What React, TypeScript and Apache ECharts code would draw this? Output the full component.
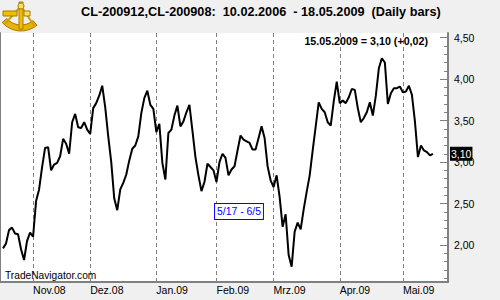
import React, { useEffect, useRef } from 'react';
import * as echarts from 'echarts';

// ---- data ----
const HOLIDAYS = ['2008-11-27', '2008-12-25', '2009-01-01', '2009-01-19', '2009-02-16', '2009-04-10'];
const FIRST_DAY = '2008-10-17';
const LAST_DAY = '2009-05-22';

const octValues = [1.96, 2.02, 2.18, 2.21, 2.14, 2.13, 1.95, 1.82, 2.05, 2.15];
const novValues = [2.10, 2.53, 2.67, 2.94, 3.17, 3.18, 2.90, 2.97, 2.99, 3.07, 3.28, 3.22, 3.10, 3.48, 3.58, 3.42, 3.41, 3.48, 3.39];
const decValues = [3.34, 3.65, 3.71, 3.80, 3.92, 3.66, 3.31, 3.00, 2.56, 2.42, 2.67, 2.75, 2.85, 3.02, 3.16, 3.20, 3.31, 3.59, 3.77, 3.86, 3.69, 3.64];
const janValues = [3.36, 3.46, 2.99, 2.79, 3.35, 3.39, 3.56, 3.68, 3.43, 3.49, 3.60, 3.69, 3.38, 3.06, 2.84, 2.65, 2.76, 2.98, 2.94, 2.90];
const febValues = [2.76, 3.00, 3.10, 3.05, 2.84, 2.91, 2.95, 3.14, 3.32, 3.27, 3.25, 3.23, 3.15, 3.15, 3.29, 3.43, 3.29, 2.95, 2.78];
const marValues = [2.70, 2.84, 2.58, 2.22, 2.37, 1.88, 1.74, 2.16, 2.27, 2.19, 2.43, 2.64, 2.84, 3.14, 3.43, 3.72, 3.64, 3.60, 3.48, 3.44, 3.73, 3.97];
const aprValues = [3.71, 3.74, 3.71, 3.78, 3.88, 3.87, 3.65, 3.48, 3.53, 3.60, 3.72, 3.56, 3.80, 4.13, 4.25, 4.20, 3.70, 3.83, 3.89, 3.89, 3.91];
const mayValues = [3.84, 3.85, 3.92, 3.81, 3.49, 3.06, 3.20, 3.14, 3.12, 3.08, 3.10];

const MONTHS_DE = ['Jan', 'Feb', 'Mrz', 'Apr', 'Mai', 'Jun', 'Jul', 'Aug', 'Sep', 'Okt', 'Nov', 'Dez'];
const Y_MIN = 1.555;
const Y_MAX = 4.555;
const yMajorTicks = [2.0, 2.5, 3.0, 3.5, 4.0, 4.5];
const yMinorTicks = [1.6, 1.7, 1.8, 1.9, 2.1, 2.2, 2.3, 2.4, 2.6, 2.7, 2.8, 2.9, 3.1, 3.2, 3.3, 3.4, 3.6, 3.7, 3.8, 3.9, 4.1, 4.2, 4.3, 4.4];
const lastValue = 3.10;

const titleText = 'CL-200912,CL-200908:  10.02.2006  - 18.05.2009  (Daily bars)';
const quoteText = '15.05.2009 = 3,10 (+0,02)';
const sourceText = 'TradeNavigator.com';
const rangeText = '5/17 - 6/5';

const FONT = '"Liberation Sans", Arial, sans-serif';

function tradingDays(start: string, end: string, holidays: string[]): string[] {
  const out: string[] = [];
  const d = new Date(start + 'T00:00:00Z');
  const e = new Date(end + 'T00:00:00Z');
  while (d <= e) {
    const wd = d.getUTCDay();
    const s = d.toISOString().slice(0, 10);
    if (wd !== 0 && wd !== 6 && holidays.indexOf(s) < 0) out.push(s);
    d.setUTCDate(d.getUTCDate() + 1);
  }
  return out;
}

const fmt = (v: number) => v.toFixed(2).replace('.', ',');

export default function App() {
  const ref = useRef<HTMLDivElement>(null);

  useEffect(() => {
    if (!ref.current) return;
    const chart = echarts.init(ref.current, undefined, { renderer: 'svg' });

    const categories = tradingDays(FIRST_DAY, LAST_DAY, HOLIDAYS);
    const closeValues = [...octValues, ...novValues, ...decValues, ...janValues, ...febValues, ...marValues, ...aprValues, ...mayValues];
    const seriesData: (number | null)[] = [null, ...closeValues];

    const monthStart = new Set<number>();
    for (let i = 1; i < categories.length; i++) {
      if (categories[i].slice(5, 7) !== categories[i - 1].slice(5, 7)) monthStart.add(i);
    }
    const isMonthStart = (idx: number) => monthStart.has(idx);

    const gray = '#808080';

    chart.setOption({
      animation: false,
      backgroundColor: '#f0f0f0',
      grid: {
        left: 0, right: 52, top: 33, bottom: 18,
        show: true, backgroundColor: '#ffffff', borderWidth: 0,
      },
      xAxis: {
        type: 'category',
        data: categories,
        boundaryGap: false,
        axisLine: { show: true, onZero: false, lineStyle: { color: gray, width: 2 } },
        axisTick: { show: false },
        axisLabel: {
          interval: (idx: number) => isMonthStart(idx),
          formatter: (v: string) => MONTHS_DE[parseInt(v.slice(5, 7), 10) - 1] + '.' + v.slice(2, 4),
          align: 'left',
          margin: 2,
          color: '#000',
          fontSize: 10.5,
          fontFamily: FONT,
        },
        splitLine: {
          show: true,
          interval: (idx: number) => isMonthStart(idx),
          lineStyle: { color: gray, type: [4, 3], width: 1 },
        },
      },
      yAxis: [
        {
          type: 'value', position: 'right', min: Y_MIN, max: Y_MAX,
          splitLine: { show: false },
          axisLine: { show: true, onZero: false, lineStyle: { color: gray, width: 2 } },
          axisTick: { show: true, inside: true, length: 8, customValues: yMajorTicks, lineStyle: { color: gray, width: 1 } },
          axisLabel: { customValues: yMajorTicks, formatter: fmt, color: '#000', fontSize: 10.5, margin: 6, fontFamily: FONT },
        },
        {
          type: 'value', position: 'right', min: Y_MIN, max: Y_MAX,
          splitLine: { show: false },
          axisLine: { show: false },
          axisTick: { show: true, inside: true, length: 4, customValues: yMinorTicks, lineStyle: { color: gray, width: 1 } },
          axisLabel: { show: false },
        },
        {
          type: 'value', position: 'right', min: Y_MIN, max: Y_MAX, z: 10,
          splitLine: { show: false },
          axisLine: { show: false },
          axisTick: { show: false },
          axisLabel: {
            customValues: [lastValue], formatter: fmt, color: '#fff', backgroundColor: '#000',
            padding: [2, 1, 1, 1], margin: 2, fontSize: 10.5, lineHeight: 11, fontFamily: FONT,
          },
        },
        {
          type: 'value', position: 'left', min: Y_MIN, max: Y_MAX,
          splitLine: { show: false },
          axisLine: { show: true, onZero: false, lineStyle: { color: gray, width: 2 } },
          axisTick: { show: false },
          axisLabel: { show: false },
        },
      ],
      series: [
        {
          type: 'line',
          yAxisIndex: 0,
          data: seriesData,
          showSymbol: false,
          lineStyle: { color: '#000', width: 2 },
          z: 5,
        },
      ],
      graphic: [
        // logo (sextant)
        {
          type: 'group',
          children: [
            { type: 'sector', shape: { cx: 21, cy: 6, r: 25, r0: 19, startAngle: Math.PI * 0.28, endAngle: Math.PI * 0.77 }, style: { fill: '#e8b400', stroke: '#a87800', lineWidth: 1 } },
            { type: 'line', shape: { x1: 21, y1: 6, x2: 35, y2: 27 }, style: { stroke: '#d4a000', lineWidth: 2 } },
            { type: 'line', shape: { x1: 21, y1: 6, x2: 5, y2: 24 }, style: { stroke: '#d4a000', lineWidth: 2 } },
            { type: 'rect', shape: { x: 19, y: 2, width: 4, height: 27 }, style: { fill: '#f0c000', stroke: '#a87800', lineWidth: 1 } },
            { type: 'rect', shape: { x: 3, y: 11, width: 14, height: 5 }, style: { fill: '#f0c000', stroke: '#a87800', lineWidth: 1 } },
            { type: 'rect', shape: { x: 24, y: 11, width: 6, height: 5 }, style: { fill: '#ffe060', stroke: '#a87800', lineWidth: 1 } },
            { type: 'circle', shape: { cx: 21, cy: 6, r: 3 }, style: { fill: '#ffe060', stroke: '#a87800', lineWidth: 1 } },
          ],
        },
        {
          type: 'text', x: 81, y: 12,
          style: { text: titleText, fill: '#000', font: `bold 12.7px ${FONT}`, verticalAlign: 'middle', align: 'left' },
        },
        {
          type: 'text', x: 428, y: 41, z: 20,
          style: { text: quoteText, fill: '#000', font: `bold 10.7px ${FONT}`, verticalAlign: 'middle', align: 'right' },
        },
        {
          type: 'text', x: 5, y: 275, z: 20,
          style: { text: sourceText, fill: '#000', font: `10.2px ${FONT}`, verticalAlign: 'middle', align: 'left' },
        },
        {
          type: 'text', x: 239, y: 211.5, z: 20,
          style: {
            text: rangeText, fill: '#0000ff', font: `10.4px ${FONT}`, verticalAlign: 'middle', align: 'center',
            backgroundColor: '#ffffff', borderColor: '#0000ff', borderWidth: 1, padding: [3, 2, 2, 2],
          },
        },
      ],
    });

    return () => chart.dispose();
  }, []);

  return (
    <div
      ref={ref}
      style={{ position: 'absolute', left: 0, top: 0, width: 500, height: 300, background: '#f0f0f0' }}
    />
  );
}
